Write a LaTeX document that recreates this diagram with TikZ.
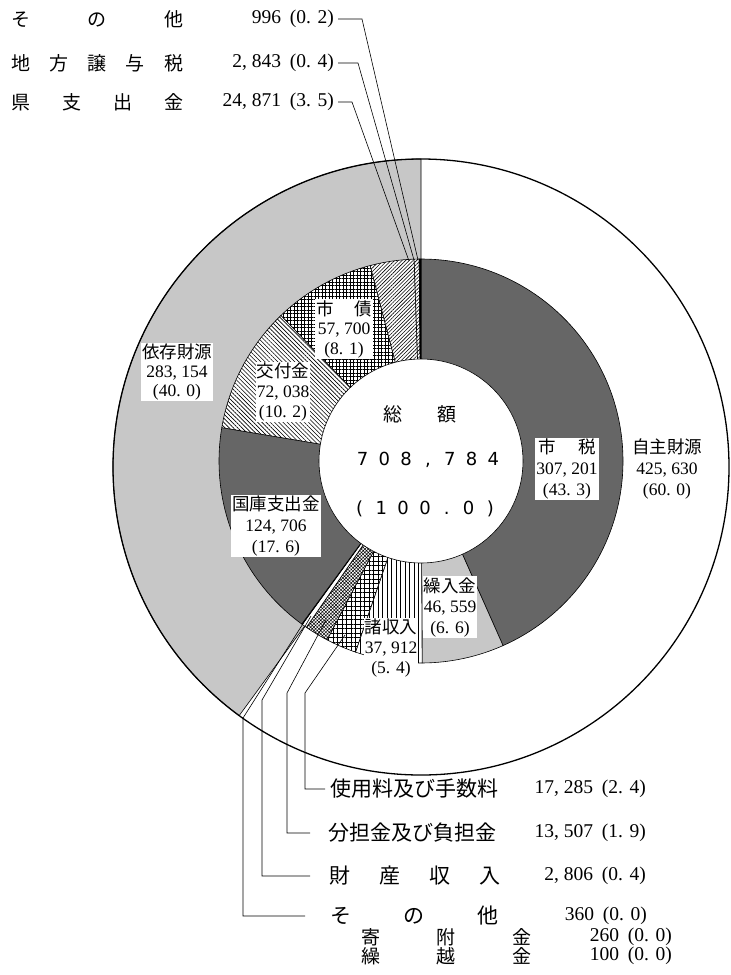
\documentclass[tikz,border=0pt]{standalone}
\usepackage{fontspec}
\setmainfont{Liberation Serif}
\newfontfamily\jp{Noto Sans CJK JP}
\newfontfamily\ctrfont{DejaVu Sans}
\usetikzlibrary{patterns.meta}
\newcommand\mysector[4]{(#1) -- ++({#3-90}:#2) arc[start angle={#3-90}, end angle={#4-90}, radius=#2] -- cycle}
\newcommand\cbx[1]{\makebox[21.8pt]{#1}}
\newcommand\lj[1]{{\jp #1}}
\newcommand\gp{\hspace{0.45em}}
\begin{document}
\begin{tikzpicture}[x=1pt,y=-1pt,
  darkfill/.style={fill=black!60},
  lightfill/.style={fill=black!22},
  slicedraw/.style={draw=black, line width=0.6pt},
  vlinesfill/.style={preaction={fill=white}, pattern={Lines[angle=90,distance=4.5pt,line width=1pt]}},
  sqgridfill/.style={preaction={fill=white}, pattern={Hatch[angle=0,distance=4.5pt,line width=0.9pt]}},
  densegridfill/.style={preaction={fill=white}, pattern={Hatch[angle=0,distance=3.5pt,line width=0.9pt]}},
  nelinesfill/.style={preaction={fill=white}, pattern={Lines[angle=45,distance=2.6pt,line width=0.6pt]}},
  nwlinesfill/.style={preaction={fill=white}, pattern={Lines[angle=-45,distance=3pt,line width=0.6pt]}},
  finefill/.style={preaction={fill=white}, pattern={Hatch[angle=45,distance=2.4pt,line width=0.5pt]}},
  lbl/.style={fill=white, inner sep=1pt, align=center},
  legj/.style={inner sep=0pt, font=\jp\fontsize{19}{19}\selectfont},
  legjb/.style={inner sep=0pt, font=\jp\fontsize{21}{21}\selectfont},
  legn/.style={inner sep=0pt, font=\fontsize{19.5}{19.5}\selectfont},
  leader/.style={draw=black, line width=0.6pt}
]
\useasboundingbox (0,0) rectangle (731,975);
\fill[white] (0,0) rectangle (731,975);
\coordinate (O1) at (421,467);
\coordinate (O2) at (421,461);

% outer ring
\fill[lightfill] \mysector{O1}{308}{216.18}{360};
\draw[slicedraw] \mysector{O1}{308}{216.18}{360};
\draw[line width=1.3pt] (O1) circle[radius=308];

% inner ring slices
\path[slicedraw, darkfill] \mysector{O2}{202}{0}{156.03};
\path[slicedraw, lightfill] \mysector{O2}{202}{156.03}{179.68};
\path[slicedraw, vlinesfill] \mysector{O2}{202}{179.68}{198.93};
\path[slicedraw, sqgridfill] \mysector{O2}{202}{198.93}{207.71};
\path[slicedraw, finefill] \mysector{O2}{202}{207.71}{214.57};
\path[slicedraw, fill=white] \mysector{O2}{202}{214.57}{216.00};
\path[slicedraw, fill=black] \mysector{O2}{202}{216.00}{216.18};
\path[slicedraw, darkfill] \mysector{O2}{202}{216.18}{279.52};
\path[slicedraw, nwlinesfill] \mysector{O2}{202}{279.52}{316.11};
\path[slicedraw, densegridfill] \mysector{O2}{202}{316.11}{345.42};
\path[slicedraw, nelinesfill] \mysector{O2}{202}{345.42}{358.05};
\path[slicedraw, nelinesfill] \mysector{O2}{202}{358.05}{359.49};
\path[slicedraw, fill=black] \mysector{O2}{202}{359.49}{360};
\filldraw[fill=white, slicedraw] (O2) circle[radius=102];

% centre
\node[inner sep=0pt, font=\jp\fontsize{19}{19}\selectfont] (sogaku) at (420,414) {総\hspace{36pt}額};
\node[inner sep=0pt, font=\ctrfont\fontsize{18}{18}\selectfont] (total) at (428,460) {\cbx{7}\cbx{0}\cbx{8}\cbx{,}\cbx{7}\cbx{8}\cbx{4}};
\node[inner sep=0pt, font=\ctrfont\fontsize{18}{18}\selectfont] (pct) at (425,509) {\cbx{(}\cbx{1}\cbx{0}\cbx{0}\cbx{.}\cbx{0}\cbx{)}};

% ring labels
\node[lbl, font=\fontsize{17.5}{21}\selectfont] (shizei) at (567,469) {\lj{市\hspace{22pt}税}\\307, 201\\(43. 3)};
\node[align=center, inner sep=1pt, font=\fontsize{17.5}{21}\selectfont] (jishu) at (667,469) {\lj{自主財源}\\425, 630\\(60. 0)};
\node[lbl, font=\fontsize{17.5}{19}\selectfont] (izon) at (177,372) {\lj{依存財源}\\283, 154\\(40. 0)};
\node[lbl, font=\fontsize{17.5}{20}\selectfont] (kofu) at (283,392) {\lj{交付金}\\72, 038\\(10. 2)};
\node[lbl, font=\fontsize{17.5}{19.5}\selectfont] (shisai) at (344,329) {\lj{市\hspace{21pt}債}\\57, 700\\(8. 1)};
\node[lbl, font=\fontsize{17.5}{21}\selectfont] (kokko) at (276,526) {\lj{国庫支出金}\\124, 706\\(17. 6)};
\node[lbl, font=\fontsize{17.5}{20.5}\selectfont] (kuri) at (450,607) {\lj{繰入金}\\46, 559\\(6. 6)};
\node[lbl, font=\fontsize{17.5}{20}\selectfont] (sho) at (391,648) {\lj{諸収入}\\37, 912\\(5. 4)};

% top-left legend
\node[legj, anchor=west] (l1) at (11,19) {\makebox[172pt][s]{そ\hfill の\hfill 他}};
\node[legn, anchor=east] (n1) at (334,19) {996\gp(0. 2)};
\node[legj, anchor=west] (l2) at (11,63) {\makebox[172pt][s]{地\hfill 方\hfill 譲\hfill 与\hfill 税}};
\node[legn, anchor=east] (n2) at (334,63) {2, 843\gp(0. 4)};
\node[legj, anchor=west] (l3) at (11,102) {\makebox[172pt][s]{県\hfill 支\hfill 出\hfill 金}};
\node[legn, anchor=east] (n3) at (334,102) {24, 871\gp(3. 5)};

% bottom legend
\node[legjb, anchor=west] (b1) at (330,789) {使用料及び手数料};
\node[legn, anchor=east] (bn1) at (646,789) {17, 285\gp(2. 4)};
\node[legjb, anchor=west] (b2) at (328,833) {分担金及び負担金};
\node[legn, anchor=east] (bn2) at (646,833) {13, 507\gp(1. 9)};
\node[legjb, anchor=west] (b3) at (329,876) {\makebox[171pt][s]{財\hfill 産\hfill 収\hfill 入}};
\node[legn, anchor=east] (bn3) at (646,876) {2, 806\gp(0. 4)};
\node[legjb, anchor=west] (b4) at (330,916) {\makebox[168pt][s]{そ\hfill の\hfill 他}};
\node[legn, anchor=east] (bn4) at (647,916) {360\gp(0. 0)};
\node[legj, anchor=west] (b5) at (361,937) {\makebox[170pt][s]{寄\hfill 附\hfill 金}};
\node[legn, anchor=east] (bn5) at (672,937) {260\gp(0. 0)};
\node[legj, anchor=west] (b6) at (361,956) {\makebox[170pt][s]{繰\hfill 越\hfill 金}};
\node[legn, anchor=east] (bn6) at (672,956) {100\gp(0. 0)};

% top leaders
\coordinate (t1k) at (362,19);  \coordinate (t1e) at (418,260);
\coordinate (t2k) at (358,63);  \coordinate (t2e) at (414,260);
\coordinate (t3k) at (352,102); \coordinate (t3e) at (409,261);
\draw[leader] ([xshift=4pt]n1.east) -- (t1k) -- (t1e);
\draw[leader] ([xshift=4pt]n2.east) -- (t2k) -- (t2e);
\draw[leader] ([xshift=4pt]n3.east) -- (t3k) -- (t3e);

% bottom leaders
\coordinate (b1k) at (305,693); \coordinate (b1e) at (345,635);
\coordinate (b2k) at (287,693); \coordinate (b2e) at (326,620);
\coordinate (b3k) at (262,700); \coordinate (b3e) at (311,616);
\coordinate (b4k) at (243,718); \coordinate (b4e) at (306,619);
\draw[leader] (b1e) -- (b1k) |- ([xshift=-5pt]b1.west);
\draw[leader] (b2e) -- (b2k) |- ([xshift=-18pt]b2.west);
\draw[leader] (b3e) -- (b3k) |- ([xshift=-19pt]b3.west);
\draw[leader] (b4e) -- (b4k) |- ([xshift=-25pt]b4.west);
\end{tikzpicture}
\end{document}
